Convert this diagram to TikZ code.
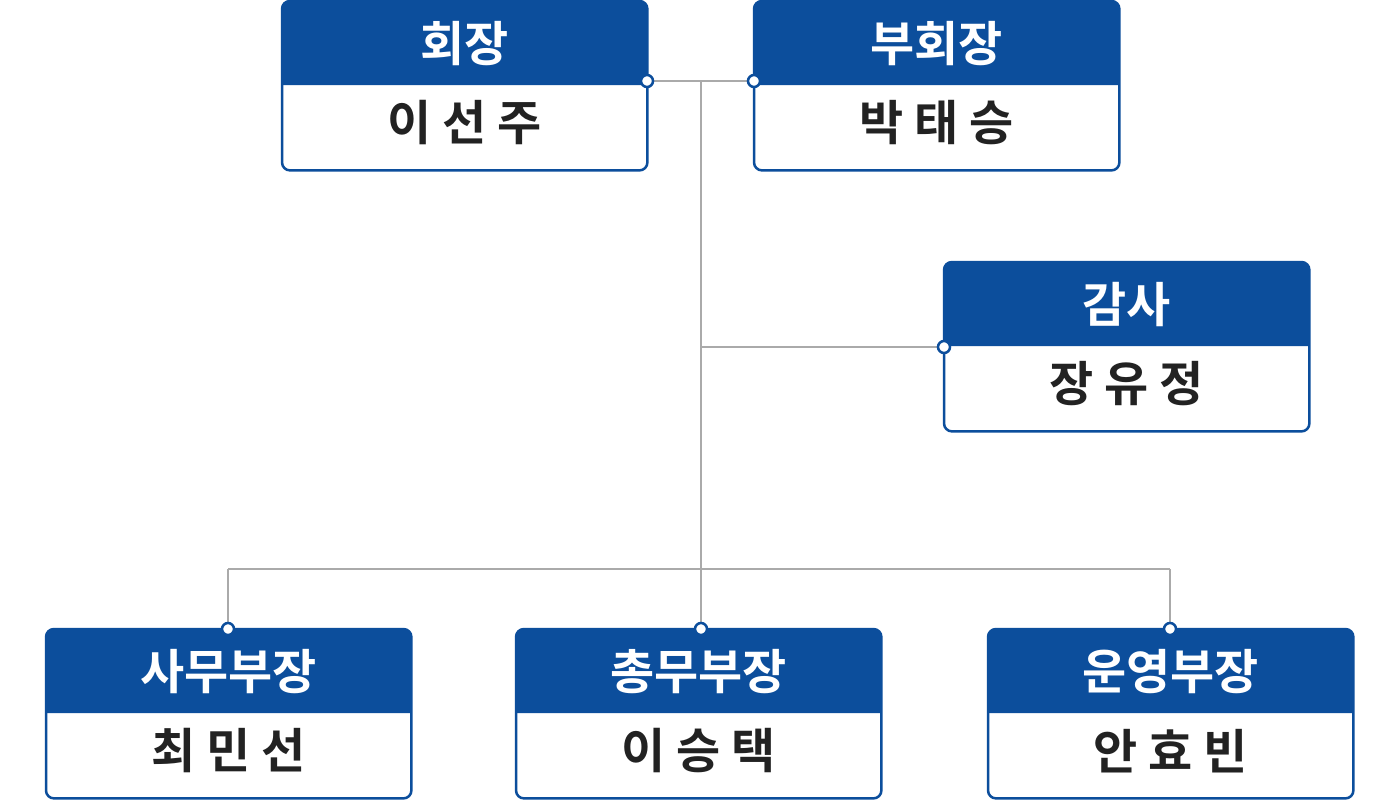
\documentclass[tikz,border=0pt]{standalone}
\usepackage{fontspec}
\setmainfont{Noto Sans CJK KR}[BoldFont={* Bold}]
\begin{document}
\definecolor{orgblue}{HTML}{0C4E9C}
\definecolor{lineg}{HTML}{AAAAAA}
\definecolor{namec}{HTML}{222222}
\begin{tikzpicture}[x=1pt,y=-1pt,
  boxframe/.style={minimum width=365, minimum height=169, anchor=north west, inner sep=0},
  titletext/.style={text=white, font=\fontsize{48}{52}\selectfont\bfseries, inner sep=0},
  nametext/.style={text=namec, font=\fontsize{48}{52}\selectfont\bfseries, inner sep=0},
  link/.style={draw=lineg, line width=2},
  dot/.style={circle, draw=orgblue, fill=white, line width=2.5, minimum size=12, inner sep=0}]
\fill[white] (0,0) rectangle (1400,800);
\useasboundingbox (0,0) rectangle (1400,800);
\newcommand{\orgbox}[5]{%
  \node[boxframe] (#1) at (#2,#3) {};
  \path[fill=orgblue] ([yshift=-84pt]#1.north west) [rounded corners=8] -- (#1.north west) -- (#1.north east) [sharp corners] -- ([yshift=-84pt]#1.north east) -- cycle;
  \draw[orgblue, line width=2.5, rounded corners=8] (#1.north west) rectangle (#1.south east);
  \node[titletext] (#1t) at ([yshift=-43pt]#1.north) {#4};
  \node[nametext] (#1n) at ([yshift=-122pt]#1.north) {#5};
}
\orgbox{pres}{282}{1}{회장}{이 선 주}
\orgbox{vice}{754}{1}{부회장}{박 태 승}
\orgbox{audit}{944}{262}{감사}{장 유 정}
\orgbox{sec}{46}{629}{사무부장}{최 민 선}
\orgbox{gen}{516}{629}{총무부장}{이 승 택}
\orgbox{ops}{988}{629}{운영부장}{안 효 빈}
% junctions
\coordinate (jtop) at (701,81);
\coordinate (jmid) at (701,347);
\coordinate (jbot) at (701,569);
\coordinate (jl) at (228,569);
\coordinate (jr) at (1170,569);
% connector dots
\coordinate (dpres) at (647,81);
\coordinate (dvice) at (754,81);
\coordinate (daudit) at (944,347);
\coordinate (dsec) at (228,629);
\coordinate (dgen) at (701,629);
\coordinate (dops) at (1170,629);
\draw[link] (dpres) -- (dvice);
\draw[link] (jtop) -- (dgen);
\draw[link] (jmid) -- (daudit);
\draw[link] (jl) -- (jr);
\draw[link] (jl) -- (dsec);
\draw[link] (jr) -- (dops);
\foreach \d in {dpres,dvice,daudit,dsec,dgen,dops} \node[dot] at (\d) {};
\end{tikzpicture}
\end{document}
